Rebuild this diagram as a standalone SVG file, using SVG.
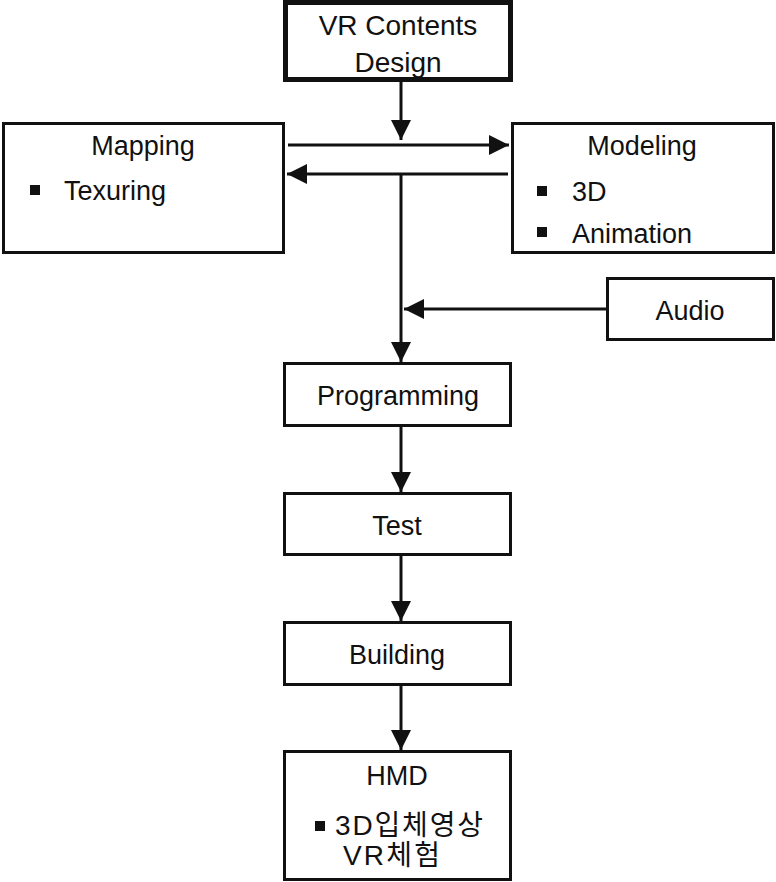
<svg xmlns="http://www.w3.org/2000/svg" width="776" height="882" viewBox="0 0 776 882">
<style>
.box{fill:#fff;stroke:#111;stroke-width:3}
.thick{stroke-width:5}
.t{font-family:"Liberation Sans","Noto Sans CJK KR",sans-serif;font-size:27px;fill:#111}
.c{text-anchor:middle}
.bul{fill:#111}
.conn{stroke:#111;stroke-width:3;fill:none}
</style>
<defs>
<marker id="ah" markerUnits="userSpaceOnUse" markerWidth="20" markerHeight="20" refX="20" refY="10" orient="auto">
<path d="M0,0 L20,10 L0,20 z" fill="#111"/>
</marker>
</defs>
<rect x="0" y="0" width="776" height="882" fill="#fff"/>
<g id="connectors">
<line class="conn" x1="401" y1="82" x2="401" y2="140" marker-end="url(#ah)"/>
<line class="conn" x1="288" y1="145" x2="509" y2="145" marker-end="url(#ah)"/>
<line class="conn" x1="508" y1="174" x2="287" y2="174" marker-end="url(#ah)"/>
<line class="conn" x1="401" y1="174" x2="401" y2="362" marker-end="url(#ah)"/>
<line class="conn" x1="606" y1="309" x2="404" y2="309" marker-end="url(#ah)"/>
<line class="conn" x1="401" y1="427" x2="401" y2="492" marker-end="url(#ah)"/>
<line class="conn" x1="401" y1="556" x2="401" y2="621" marker-end="url(#ah)"/>
<line class="conn" x1="401" y1="686" x2="401" y2="750" marker-end="url(#ah)"/>
</g>
<g id="vr-contents-design">
<rect class="box thick" x="285.5" y="2.5" width="225" height="77"/>
<text class="t c" x="398" y="35" style="font-size:28px">VR Contents</text>
<text class="t c" x="398" y="72" style="font-size:28px">Design</text>
</g>
<g id="mapping">
<rect class="box" x="3.5" y="123.5" width="280" height="129"/>
<text class="t c" x="143" y="155">Mapping</text>
<rect class="bul" x="30" y="185" width="10" height="10"/>
<text class="t" x="64" y="200">Texuring</text>
</g>
<g id="modeling">
<rect class="box" x="512.5" y="123.5" width="261" height="129"/>
<text class="t c" x="642" y="155">Modeling</text>
<rect class="bul" x="537" y="186" width="10" height="10"/>
<text class="t" x="572" y="201">3D</text>
<rect class="bul" x="537" y="227" width="10" height="10"/>
<text class="t" x="572" y="243">Animation</text>
</g>
<g id="audio">
<rect class="box" x="607.5" y="278.5" width="166" height="61"/>
<text class="t c" x="690" y="320">Audio</text>
</g>
<g id="programming">
<rect class="box" x="284.5" y="363.5" width="226" height="62"/>
<text class="t c" x="398" y="405">Programming</text>
</g>
<g id="test">
<rect class="box" x="284.5" y="493.5" width="226" height="61"/>
<text class="t c" x="397" y="535">Test</text>
</g>
<g id="building">
<rect class="box" x="284.5" y="622.5" width="226" height="62"/>
<text class="t c" x="397" y="664">Building</text>
</g>
<g id="hmd">
<rect class="box" x="284.5" y="751.5" width="226" height="128"/>
<text class="t c" x="397" y="785">HMD</text>
<rect class="bul" x="315" y="821" width="10" height="10"/>
<text class="t" x="335" y="835" style="font-size:28px" textLength="148" lengthAdjust="spacing">3D입체영상</text>
<text class="t" x="343" y="865" style="font-size:28px" textLength="97" lengthAdjust="spacing">VR체험</text>
</g>
</svg>
